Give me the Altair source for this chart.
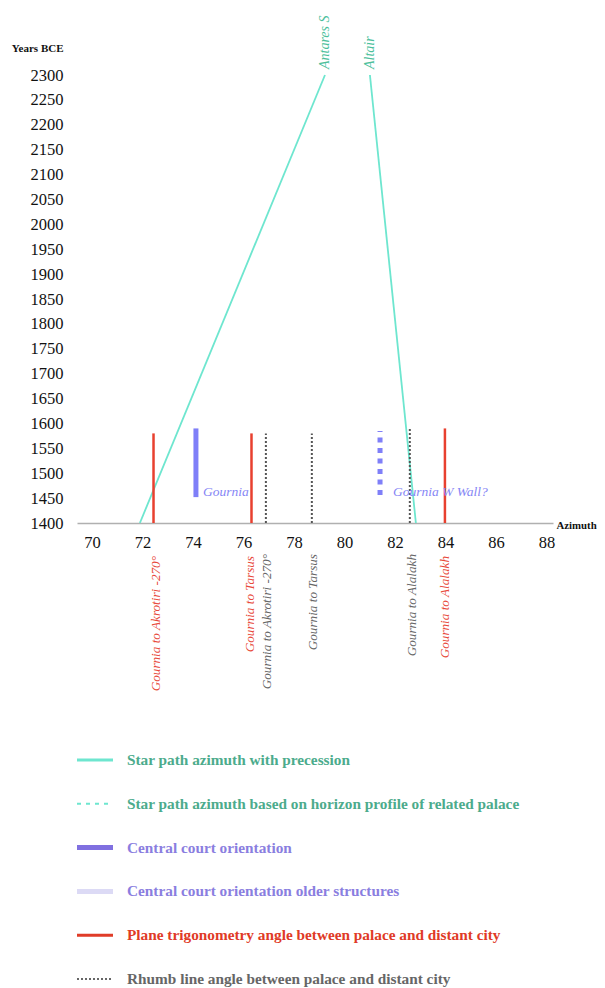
import altair as alt
import pandas as pd

SERIF = "Liberation Serif"

# ---- data ----
star_names = ["Antares S", "Altair"]
star_az_1400 = [71.90, 82.83]
star_az_2300 = [79.23, 81.01]
star_year_start = [1400, 1400]
star_year_end = [2300, 2300]

plane_labels = ["Gournia to Akrotiri -270°", "Gournia to Tarsus", "Gournia to Alalakh"]
plane_az = [72.44, 76.32, 83.98]
plane_top = [1580, 1580, 1590]
plane_label_az = [72.52, 76.28, 83.98]

rhumb_labels = ["Gournia to Akrotiri -270°", "Gournia to Tarsus", "Gournia to Alalakh"]
rhumb_az = [76.89, 78.71, 82.59]
rhumb_top = [1580, 1580, 1590]
rhumb_label_az = [76.93, 78.75, 82.67]

court_names = ["Gournia"]
court_az = [74.12]
court_bottom = [1452]
court_top = [1590]

wall_names = ["Gournia W Wall?"]
wall_az = [81.41]
wall_bottom = [1456]
wall_top = [1585]

label_year = [1462]

x_ticks = [70, 72, 74, 76, 78, 80, 82, 84, 86, 88]
y_ticks = [1400, 1450, 1500, 1550, 1600, 1650, 1700, 1750, 1800, 1850,
           1900, 1950, 2000, 2050, 2100, 2150, 2200, 2250, 2300]

legend_labels = [
    "Star path azimuth with precession",
    "Star path azimuth based on horizon profile of related palace",
    "Central court orientation",
    "Central court orientation older structures",
    "Plane trigonometry angle between palace and distant city",
    "Rhumb line angle between palace and distant city",
]
legend_line_colors = ["#6ee6cf", "#6ee6cf", "#8070e0", "#dcdaf5", "#e03c28", "#666666"]
legend_text_colors = ["#4cab8c", "#4cab8c", "#8a7ee0", "#8a7ee0", "#e03a26", "#666666"]
legend_widths = [3, 2, 5, 5, 3, 2]
legend_dash_keys = ["solid", "dash", "solid2", "solid3", "solid4", "dot"]

# ---- frames ----
stars = pd.DataFrame({"name": star_names, "az0": star_az_1400, "az1": star_az_2300,
                      "y0": star_year_start, "y1": star_year_end})
plane = pd.DataFrame({"label": plane_labels, "az": plane_az, "top": plane_top,
                      "laz": plane_label_az, "base": [1400] * len(plane_az)})
rhumb = pd.DataFrame({"label": rhumb_labels, "az": rhumb_az, "top": rhumb_top,
                      "laz": rhumb_label_az, "base": [1400] * len(rhumb_az)})
court = pd.DataFrame({"name": court_names, "az": court_az, "y0": court_bottom,
                      "y1": court_top, "ly": label_year})
wall = pd.DataFrame({"name": wall_names, "az": wall_az, "y0": wall_bottom,
                     "y1": wall_top, "ly": label_year})
legend = pd.DataFrame({"row": list(range(len(legend_labels))), "label": legend_labels,
                       "lc": legend_line_colors, "tc": legend_text_colors,
                       "w": legend_widths, "dash": legend_dash_keys})

xs = alt.Scale(domain=[69.41, 88.26], nice=False, zero=False)
ys = alt.Scale(domain=[1400, 2300], nice=False, zero=False)

xaxis = alt.Axis(values=x_ticks, title="Azimuth", grid=False, ticks=False, tickSize=0,
                 domainColor="#b0b0b0", domainWidth=1.5, labelFont=SERIF, labelFontSize=16.5,
                 labelColor="#111111", labelPadding=11, labelFlush=False, format="d",
                 titleFont=SERIF, titleFontSize=10.8, titleFontWeight="bold",
                 titleColor="#111111", titleAngle=0, titleAlign="left",
                 titleBaseline="middle", titleX=479, titleY=2)
yaxis = alt.Axis(values=y_ticks, title="Years BCE", grid=False, ticks=False, tickSize=0,
                 domain=False, labelFont=SERIF, labelFontSize=16.5, labelColor="#111111",
                 labelPadding=14, labelFlush=False, labelOverlap=False, format="d",
                 titleFont=SERIF, titleFontSize=11, titleFontWeight="bold",
                 titleColor="#111111", titleAngle=0, titleAlign="right",
                 titleBaseline="middle", titleX=-14, titleY=-27)


def X(f):
    return alt.X(f, type="quantitative", scale=xs, axis=xaxis)


def Y(f):
    return alt.Y(f, type="quantitative", scale=ys, axis=yaxis)


star_lines = alt.Chart(stars).mark_rule(color="#6ee6cf", strokeWidth=1.8).encode(
    x=X("az0"), x2="az1", y=Y("y0"), y2="y1")
star_text = alt.Chart(stars).mark_text(
    angle=270, align="left", baseline="middle", dx=6, font=SERIF, fontSize=14,
    fontStyle="italic", color="#4cbf9c").encode(x=X("az1"), y=Y("y1"), text="name")

plane_lines = alt.Chart(plane).mark_rule(color="#e8402f", strokeWidth=2.5).encode(
    x=X("az"), y=Y("base"), y2="top")
plane_text = alt.Chart(plane).mark_text(
    angle=270, align="right", baseline="middle", dx=-33, font=SERIF, fontSize=13.2,
    fontStyle="italic", color="#e8493a").encode(x=X("laz"), y=Y("base"), text="label")

rhumb_lines = alt.Chart(rhumb).mark_rule(color="#555555", strokeWidth=2, strokeDash=[2, 2]).encode(
    x=X("az"), y=Y("base"), y2="top")
rhumb_text = alt.Chart(rhumb).mark_text(
    angle=270, align="right", baseline="middle", dx=-31, font=SERIF, fontSize=13.2,
    fontStyle="italic", color="#666666").encode(x=X("laz"), y=Y("base"), text="label")

court_bar = alt.Chart(court).mark_rule(color="#7f7ff8", strokeWidth=5).encode(
    x=X("az"), y=Y("y0"), y2="y1")
court_text = alt.Chart(court).mark_text(
    align="left", baseline="middle", dx=7, font=SERIF, fontSize=13.5, fontStyle="italic",
    color="#8585f5").encode(x=X("az"), y=Y("ly"), text="name")

wall_bar = alt.Chart(wall).mark_rule(color="#7f7ff8", strokeWidth=5, strokeDash=[5, 5.5]).encode(
    x=X("az"), y=Y("y0"), y2="y1")
wall_text = alt.Chart(wall).mark_text(
    align="left", baseline="middle", dx=13, font=SERIF, fontSize=13.5, fontStyle="italic",
    color="#8585f5").encode(x=X("az"), y=Y("ly"), text="name")

main = alt.layer(star_lines, plane_lines, rhumb_lines, court_bar, wall_bar,
                 star_text, plane_text, rhumb_text, court_text, wall_text)

ly = alt.Y("row:Q", scale=alt.Scale(domain=[0, 5], range=[685, 904]), axis=None)
legend_lines = alt.Chart(legend).mark_rule().encode(
    x=alt.value(0), x2=alt.value(36), y=ly,
    color=alt.Color("lc:N", scale=None),
    strokeWidth=alt.StrokeWidth("w:Q", scale=None),
    strokeDash=alt.StrokeDash("dash:N", scale=alt.Scale(
        domain=legend_dash_keys,
        range=[[1, 0], [4, 5], [1, 0], [1, 0], [1, 0], [2, 2]]), legend=None))
legend_text = alt.Chart(legend).mark_text(
    align="left", baseline="middle", font=SERIF, fontSize=15.3, fontWeight="bold").encode(
    x=alt.value(50), y=ly, text="label", color=alt.Color("tc:N", scale=None))

legend_layer = alt.layer(legend_lines, legend_text)

chart = alt.layer(main, legend_layer).resolve_scale(y="independent").properties(
    width=476, height=448,
    autosize=alt.AutoSizeParams(type="none"),
    padding={"left": 69, "top": 67, "right": 44, "bottom": 465},
).configure_view(stroke=None)

chart.save("out.html", embed_options={"renderer": "svg", "actions": False})
